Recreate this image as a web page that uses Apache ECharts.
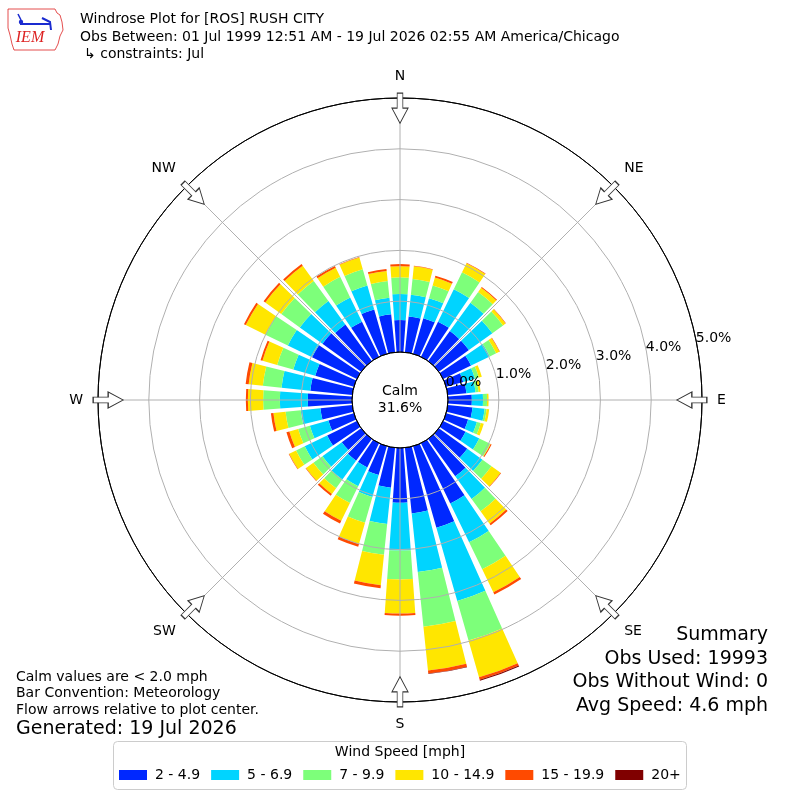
<!DOCTYPE html>
<html><head><meta charset="utf-8">
<script src="https://cdn.jsdelivr.net/npm/echarts@6/dist/echarts.min.js"></script>
<style>html,body{margin:0;padding:0;background:#fff}#c{width:800px;height:800px}</style>
</head><body><div id="c"></div>
<script>
// ---- data ----
const directions = [0,10,20,30,40,50,60,70,80,90,100,110,120,130,140,150,160,170,180,190,200,210,220,230,240,250,260,270,280,290,300,310,320,330,340,350];
const speedBins = ['2 - 4.9','5 - 6.9','7 - 9.9','10 - 14.9','15 - 19.9','20+'];
const binColors = ['#0028ff','#00d4ff','#7dff7a','#ffe600','#ff4a00','#800000'];
const pct2to5   = [0.63,0.71,0.73,0.77,0.73,0.73,0.61,0.35,0.37,0.47,0.49,0.45,0.49,0.69,0.91,1.32,1.67,1.30,1.08,0.79,0.59,0.53,0.53,0.47,0.65,0.52,0.63,0.87,0.83,0.79,0.98,0.94,0.89,0.77,0.91,0.75];
const pct5to7   = [0.51,0.43,0.41,0.71,0.69,0.57,0.41,0.24,0.18,0.22,0.24,0.18,0.30,0.37,0.55,0.85,1.50,1.16,0.94,0.72,0.45,0.41,0.46,0.47,0.49,0.38,0.39,0.55,0.57,0.45,0.53,0.55,0.57,0.53,0.49,0.33];
const pct7to10  = [0.33,0.31,0.26,0.37,0.26,0.26,0.14,0.08,0.06,0.08,0.04,0.08,0.24,0.22,0.30,0.59,0.81,1.08,0.57,0.61,0.53,0.37,0.21,0.22,0.19,0.24,0.30,0.33,0.37,0.33,0.49,0.45,0.49,0.45,0.33,0.33];
const pct10to15 = [0.22,0.25,0.16,0.20,0.10,0.06,0.07,0.06,0.04,0.03,0.05,0.06,0.01,0.22,0.30,0.50,0.75,0.87,0.67,0.60,0.43,0.39,0.14,0.18,0.15,0.18,0.24,0.30,0.28,0.30,0.43,0.39,0.37,0.20,0.24,0.20];
const pct15to20 = [0.04,0.01,0.04,0.01,0.02,0.01,0.01,0,0,0,0,0,0.02,0.01,0.04,0.05,0.05,0.06,0.04,0.06,0.06,0.06,0.04,0.01,0.01,0.06,0.05,0.04,0.06,0.04,0.04,0.04,0.04,0.04,0.01,0.04];
const pct20plus = [0,0,0,0,0,0,0,0,0,0,0,0,0,0,0,0,0.02,0.01,0,0,0,0,0,0,0,0,0,0,0,0,0,0,0,0,0,0];
const compassAngles = [0,45,90,135,180,225,270,315];
const compassLabels = ['N','NE','E','SE','S','SW','W','NW'];
const ringLabels = ['0.0%','1.0%','2.0%','3.0%','4.0%','5.0%'];
const calmPct = '31.6%';
const summaryLines = ['Summary','Obs Used: 19993','Obs Without Wind: 0','Avg Speed: 4.6 mph'];
const noteLines = ['Calm values are < 2.0 mph','Bar Convention: Meteorology','Flow arrows relative to plot center.'];
const generated = 'Generated: 19 Jul 2026';
const titleLines = ['Windrose Plot for [ROS] RUSH CITY','Obs Between: 01 Jul 1999 12:51 AM - 19 Jul 2026 02:55 AM America/Chicago','\u21b3 constraints: Jul'];

// ---- chart ----
const FONT = 'DejaVu Sans';
const chart = echarts.init(document.getElementById('c'));
const C = [400, 400], R = [48, 302];
const seriesData = [pct2to5, pct5to7, pct7to10, pct10to15, pct15to20, pct20plus];
const arrowPath = 'path://M5.5,0 L11.5,0 L11.5,15 L17,15 L8.5,30 L0,15 L5.5,15 Z';

const series = speedBins.map((name, i) => ({
  name, type: 'bar', coordinateSystem: 'polar', polarIndex: 0, stack: 'ws',
  data: seriesData[i], barCategoryGap: '18%',
  itemStyle: { color: binColors[i] }, silent: true
}));
series.push({
  type: 'scatter', coordinateSystem: 'polar', polarIndex: 1, z: 20, silent: true,
  symbol: arrowPath, symbolSize: [16, 30],
  data: compassAngles.map(a => ({ value: [4.8, a], symbolRotate: -a })),
  itemStyle: { color: '#fff', borderColor: '#333', borderWidth: 1, opacity: 1 }
});

const txt = (x, y, t, size, align, extra) => ({
  type: 'text', x, y, silent: true,
  style: Object.assign({ text: t, fontFamily: FONT, fontSize: size, fill: '#000', textAlign: align || 'left', textVerticalAlign: 'middle' }, extra || {})
});

const graphics = [
  // logo
  { type: 'polygon', shape: { points: [[8,9],[55,9],[57,13],[60,15],[62,22],[63,30],[60,36],[58,44],[55,50],[14,50],[12,44],[10,35],[8,28]] }, style: { fill: 'none', stroke: '#d22', lineWidth: 0.8 } },
  { type: 'polyline', shape: { points: [[20,24],[50,24]] }, style: { stroke: '#1a2bd0', lineWidth: 2 } },
  { type: 'polyline', shape: { points: [[42,18],[50,22],[51,30]] }, style: { stroke: '#1a2bd0', lineWidth: 2, fill: 'none' } },
  { type: 'circle', shape: { cx: 21, cy: 22, r: 2.2 }, style: { fill: '#1a2bd0' } },
  { type: 'polyline', shape: { points: [[18,14],[21,20]] }, style: { stroke: '#1a2bd0', lineWidth: 1.5 } },
  txt(30, 38, 'IEM', 16, 'center', { fill: '#d22', fontFamily: 'Liberation Serif', fontStyle: 'italic' }),
  // titles
  txt(80, 19, titleLines[0], 14),
  txt(80, 37, titleLines[1], 14),
  txt(84, 54, titleLines[2], 14),
  // calm
  txt(400, 391, 'Calm', 14, 'center'),
  txt(400, 408, calmPct, 14, 'center'),
  // notes
  txt(16, 677, noteLines[0], 14),
  txt(16, 693, noteLines[1], 14),
  txt(16, 710, noteLines[2], 14),
  txt(16, 729, generated, 19),
  // summary
  txt(768, 635, summaryLines[0], 19, 'right'),
  txt(768, 659, summaryLines[1], 19, 'right'),
  txt(768, 682, summaryLines[2], 19, 'right'),
  txt(768, 706, summaryLines[3], 19, 'right'),
  // legend frame
  { type: 'rect', shape: { x: 113.5, y: 741.5, width: 573, height: 48, r: 4 }, style: { fill: '#fff', stroke: '#cccccc', lineWidth: 1 }, z: -1 },
  txt(400, 752, 'Wind Speed [mph]', 14, 'center')
];

chart.setOption({
  animation: false,
  textStyle: { fontFamily: FONT },
  polar: [{ center: C, radius: R }, { center: C, radius: R }, { center: C, radius: R }],
  angleAxis: [
    { polarIndex: 0, type: 'category', data: directions, startAngle: 95, clockwise: true,
      axisLine: { show: false }, axisTick: { show: false }, axisLabel: { show: false }, splitLine: { show: false } },
    { polarIndex: 1, type: 'value', min: 0, max: 360, interval: 45, startAngle: 90, clockwise: true, z: 10,
      axisLine: { show: true, lineStyle: { color: '#000', width: 1 } }, axisTick: { show: false },
      axisLabel: { show: true, margin: 15, fontSize: 14, color: '#000', fontFamily: FONT,
        formatter: v => { const k = compassAngles.indexOf(v); return k >= 0 ? compassLabels[k] : ''; } },
      splitLine: { show: true, lineStyle: { color: '#b0b0b0', width: 1 } } },
    { polarIndex: 2, type: 'value', min: 0, max: 360, startAngle: 10, clockwise: false,
      axisLine: { show: false }, axisTick: { show: false }, axisLabel: { show: false }, splitLine: { show: false } }
  ],
  radiusAxis: [
    { polarIndex: 0, min: 0, max: 5, axisLine: { show: false }, axisTick: { show: false }, axisLabel: { show: false }, splitLine: { show: false } },
    { polarIndex: 1, min: 0, max: 5, interval: 1, z: 10, axisLine: { show: false }, axisTick: { show: false }, axisLabel: { show: false },
      splitLine: { show: true, lineStyle: { color: ['#000','#b0b0b0','#b0b0b0','#b0b0b0','#b0b0b0','#000'], width: 1 } } },
    { polarIndex: 2, min: 0, max: 5, interval: 1, z: 10, axisLine: { show: false }, axisTick: { show: false }, splitLine: { show: false },
      axisLabel: { show: true, margin: 9, align: 'left', verticalAlign: 'middle', fontSize: 14, color: '#000', fontFamily: FONT,
        formatter: v => ringLabels[Math.round(v)] } }
  ],
  legend: {
    data: speedBins, left: 114, top: 763, itemWidth: 28, itemHeight: 10, itemGap: 11, icon: 'rect',
    textStyle: { fontSize: 14, color: '#000', fontFamily: FONT, padding: [0, 0, 0, 3] }, selectedMode: false
  },
  series,
  graphic: graphics
});
</script></body></html>
